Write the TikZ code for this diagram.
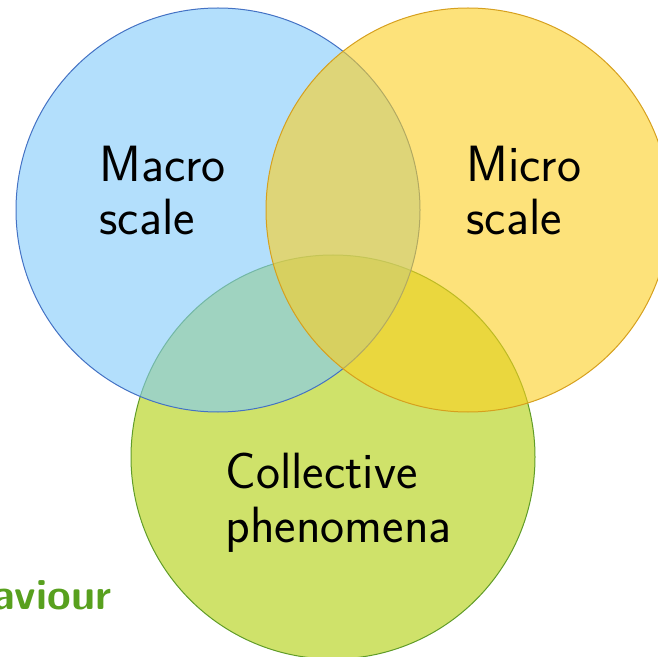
\documentclass[tikz,border=0pt]{standalone}
\usepackage{fontspec}
\usepackage{tikz}
\usetikzlibrary{positioning}
\tikzstyle{venn} = [x = 0.5pt, y = -0.5pt]
\definecolor{macroFill}{RGB}{128,202,250}
\definecolor{macroLine}{RGB}{68,114,196}
\definecolor{microFill}{RGB}{252,207,33}
\definecolor{microLine}{RGB}{214,160,30}
\definecolor{collectiveFill}{RGB}{175,207,7}
\definecolor{collectiveLine}{RGB}{96,156,40}
\definecolor{alertGreen}{RGB}{88,160,30}
\tikzstyle{circleStyle} = [fill opacity=0.6, draw opacity=1, line width=0.5pt]
\tikzstyle{labelText} = [font=\sffamily\fontsize{25.5}{26.75}\selectfont, align=left, anchor=base west, inner sep=0pt, text opacity=1]
\tikzstyle{alertText} = [font=\sffamily\bfseries\fontsize{21.5}{25}\selectfont, text=alertGreen, anchor=base west, inner sep=0pt]
\newcommand{\circleRadius}{101pt}
\newcommand{\vennCircle}[4]{\filldraw [circleStyle, fill=#3, draw=#4] (#1, #2) circle (\circleRadius);}

\begin{document}
\begin{tikzpicture}[venn]
            \useasboundingbox (0,0) rectangle (658,657);
            \vennCircle{333}{457}{collectiveFill}{collectiveLine}
            \vennCircle{218}{210}{macroFill}{macroLine}
            \vennCircle{468}{210}{microFill}{microLine}

            % base anchor sits on the last line
            \node [labelText] (macro) at (99,235) {Macro\\scale};
            \node [labelText] (micro) at (466,235) {Micro\\scale};
            \node [labelText] (collective) at (225,542) {Collective\\phenomena};
            \node [alertText] (behaviour) at (-8,609) {aviour};
          \end{tikzpicture}
\end{document}
